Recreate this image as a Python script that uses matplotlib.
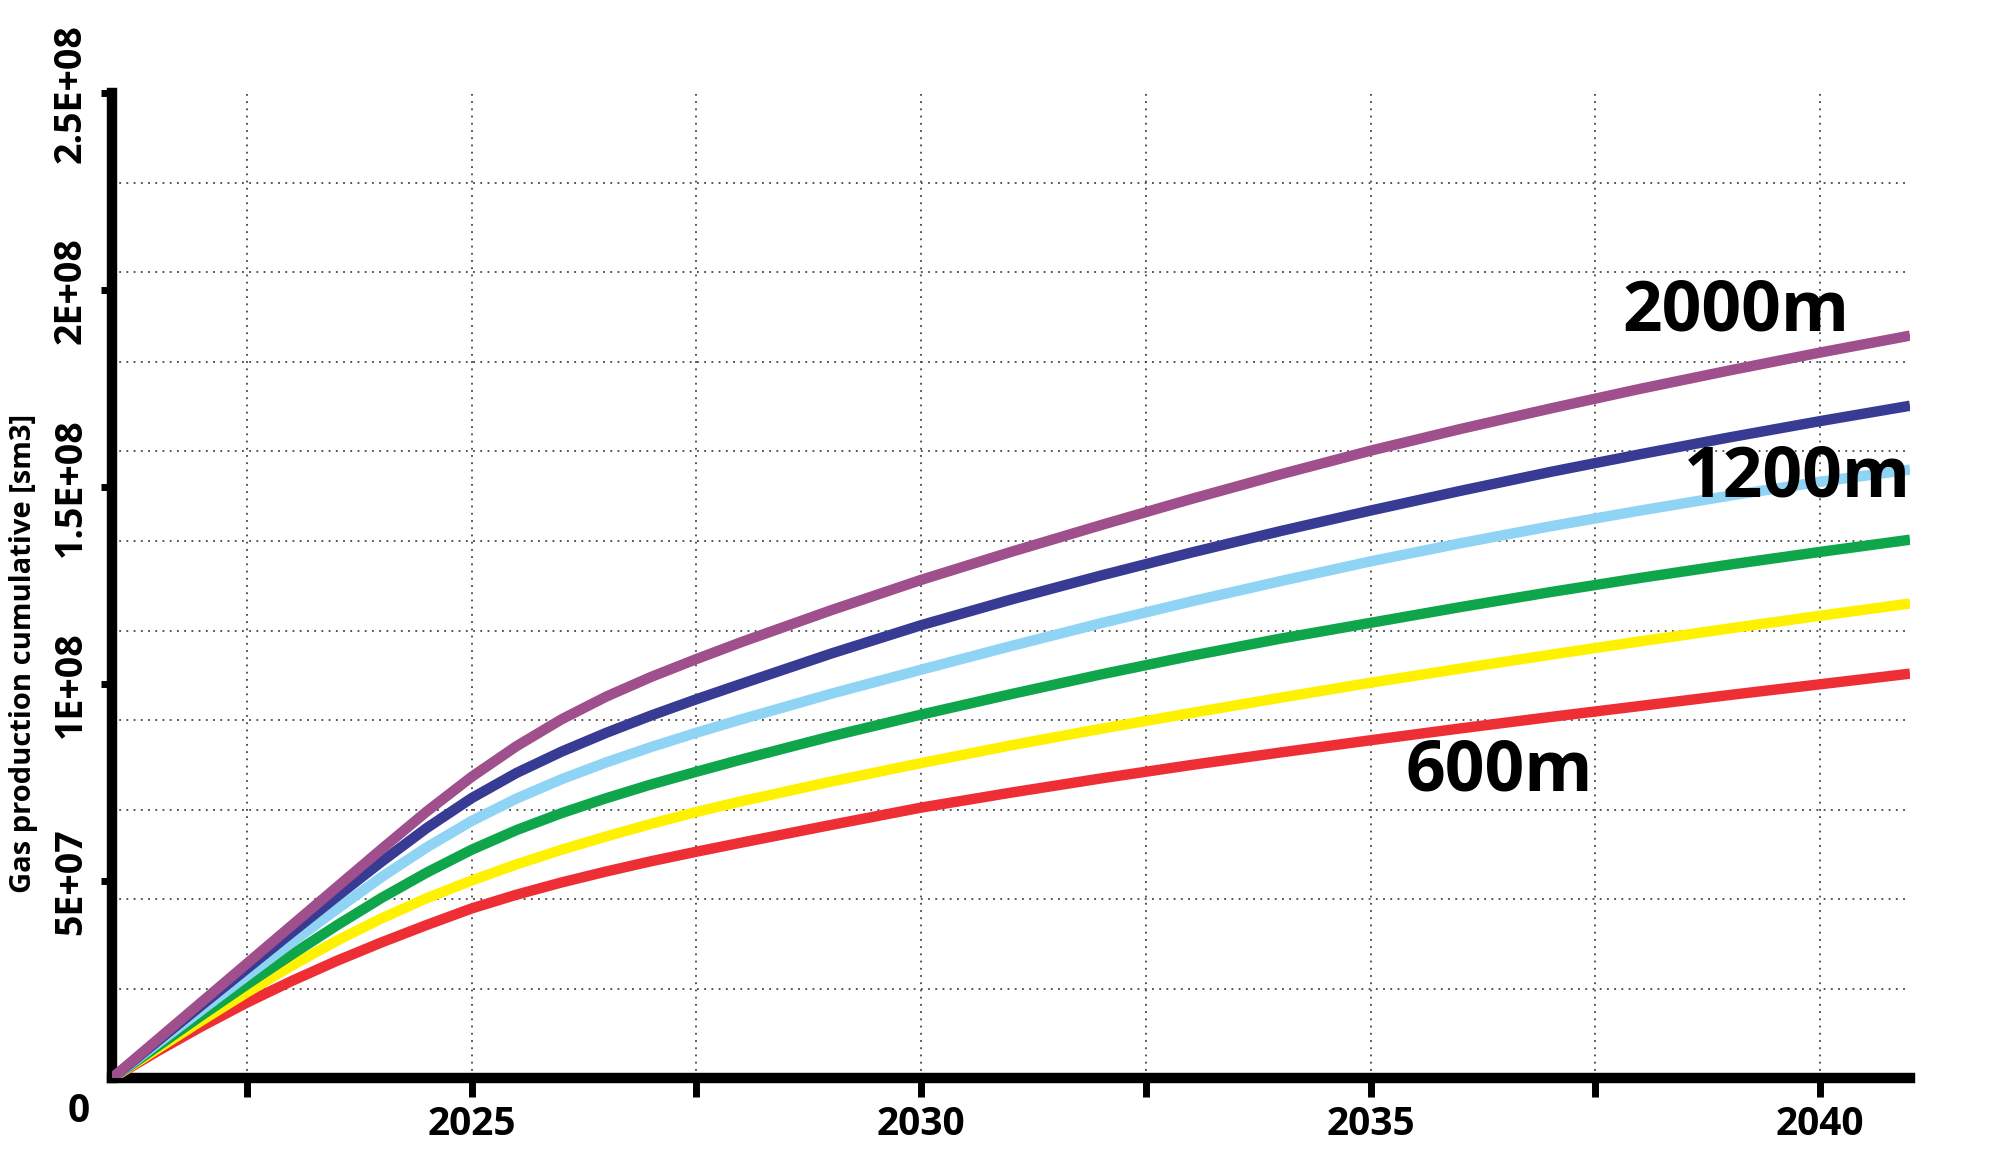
import matplotlib
matplotlib.use("Agg")
import matplotlib.pyplot as plt
import numpy as np

# cumulative gas production (units of 1E+07 sm3)
years = [2021, 2021.5, 2022, 2022.5, 2023, 2023.5, 2024, 2024.5, 2025, 2025.5, 2026,
         2026.5, 2027, 2027.5, 2028, 2029, 2030, 2031, 2032, 2033, 2034, 2035,
         2036, 2037, 2038, 2039, 2040, 2041]
cum_purple = [0, 0.97, 1.94, 2.91, 3.88, 4.85, 5.82, 6.77, 7.65, 8.43, 9.11,
              9.69, 10.19, 10.64, 11.07, 11.88, 12.65, 13.36, 14.04, 14.70, 15.33, 15.93,
              16.48, 17.00, 17.50, 17.97, 18.42, 18.85]
cum_navy = [0, 0.93, 1.86, 2.78, 3.70, 4.61, 5.50, 6.35, 7.11, 7.75, 8.29,
            8.77, 9.21, 9.62, 10.01, 10.78, 11.50, 12.15, 12.76, 13.34, 13.89, 14.41,
            14.91, 15.39, 15.84, 16.27, 16.68, 17.07]
cum_lightblue = [0, 0.87, 1.74, 2.60, 3.45, 4.29, 5.11, 5.86, 6.53, 7.10, 7.59,
                 8.02, 8.41, 8.77, 9.11, 9.76, 10.37, 10.97, 11.55, 12.10, 12.62, 13.12,
                 13.58, 14.01, 14.41, 14.79, 15.14, 15.45]
cum_green = [0, 0.80, 1.60, 2.38, 3.14, 3.88, 4.58, 5.22, 5.80, 6.30, 6.73,
             7.11, 7.46, 7.78, 8.09, 8.68, 9.23, 9.75, 10.25, 10.72, 11.16, 11.56,
             11.96, 12.34, 12.70, 13.04, 13.36, 13.67]
cum_yellow = [0, 0.74, 1.47, 2.18, 2.86, 3.49, 4.06, 4.57, 5.02, 5.43, 5.80,
              6.14, 6.46, 6.76, 7.03, 7.53, 8.00, 8.45, 8.87, 9.27, 9.66, 10.04,
              10.40, 10.75, 11.09, 11.42, 11.74, 12.05]
cum_red = [0, 0.68, 1.32, 1.92, 2.47, 2.98, 3.45, 3.89, 4.31, 4.66, 4.97,
           5.25, 5.51, 5.75, 5.98, 6.43, 6.87, 7.25, 7.61, 7.95, 8.27, 8.58,
           8.88, 9.17, 9.45, 9.73, 10.00, 10.27]

series = [cum_red, cum_yellow, cum_green, cum_lightblue, cum_navy, cum_purple]
colors = ["#ee2e35", "#fff200", "#0fa64b", "#8fd4f5", "#373b93", "#9e4f8c"]

ytick_vals = [5e7, 1e8, 1.5e8, 2e8, 2.5e8]
ytick_labels = ["5E+07", "1E+08", "1.5E+08", "2E+08", "2.5E+08"]
xtick_vals = [2022.5, 2025, 2027.5, 2030, 2032.5, 2035, 2037.5, 2040]
xtick_labels = ["", "2025", "", "2030", "", "2035", "", "2040"]

# (text, year, value)
tags = [("2000m", 2039.06, 1.943e8), ("1200m", 2039.75, 1.522e8), ("600m", 2036.43, 7.77e7)]

fig = plt.figure(figsize=(20, 11.52), dpi=100)
ax = fig.add_axes([0.056, 0.064, 0.899, 0.855])

for vals, c in zip(series, colors):
    ax.plot(years, np.array(vals) * 1e7, color=c, lw=7.5, solid_capstyle="butt",
            solid_joinstyle="round", zorder=3)

ax.set_xlim(2021, 2041)
ax.set_ylim(0, 2.5e8)

for s in ["top", "right"]:
    ax.spines[s].set_visible(False)
for s in ["left", "bottom"]:
    ax.spines[s].set_linewidth(7.5)
    ax.spines[s].set_capstyle("projecting")

ax.set_xticks(xtick_vals)
ax.set_xticklabels(xtick_labels, fontsize=28, fontweight="bold", family="Open Sans")
ax.tick_params(axis="x", length=14, width=5, pad=5)

ax.set_yticks(ytick_vals)
ax.set_yticklabels(ytick_labels, rotation=90, va="center", fontsize=27,
                   fontweight="bold", family="Open Sans")
ax.tick_params(axis="y", length=8, width=5, pad=8)
ax.set_yticks(np.linspace(0, 2.5e8, 12), minor=True)
ax.tick_params(axis="y", which="minor", length=0)

ax.grid(axis="x", which="major", ls=(0, (1, 3)), color="#444444", lw=1.3)
ax.grid(axis="y", which="minor", ls=(0, (1, 3)), color="#444444", lw=1.3)
ax.grid(axis="y", which="major", visible=False)

ax.set_ylabel("Gas production cumulative [sm3]", fontsize=21, fontweight="bold",
              family="Open Sans")
ax.yaxis.set_label_coords(-0.041, 0.431)

fig.text(0.0395, 0.035, "0", fontsize=28, fontweight="bold", family="Open Sans",
         ha="center", va="center")

for txt, x, y in tags:
    ax.text(x, y, txt, fontsize=50, fontweight="bold", family="Open Sans",
            ha="center", va="center", zorder=5)

fig.savefig("out.png", dpi=100)
